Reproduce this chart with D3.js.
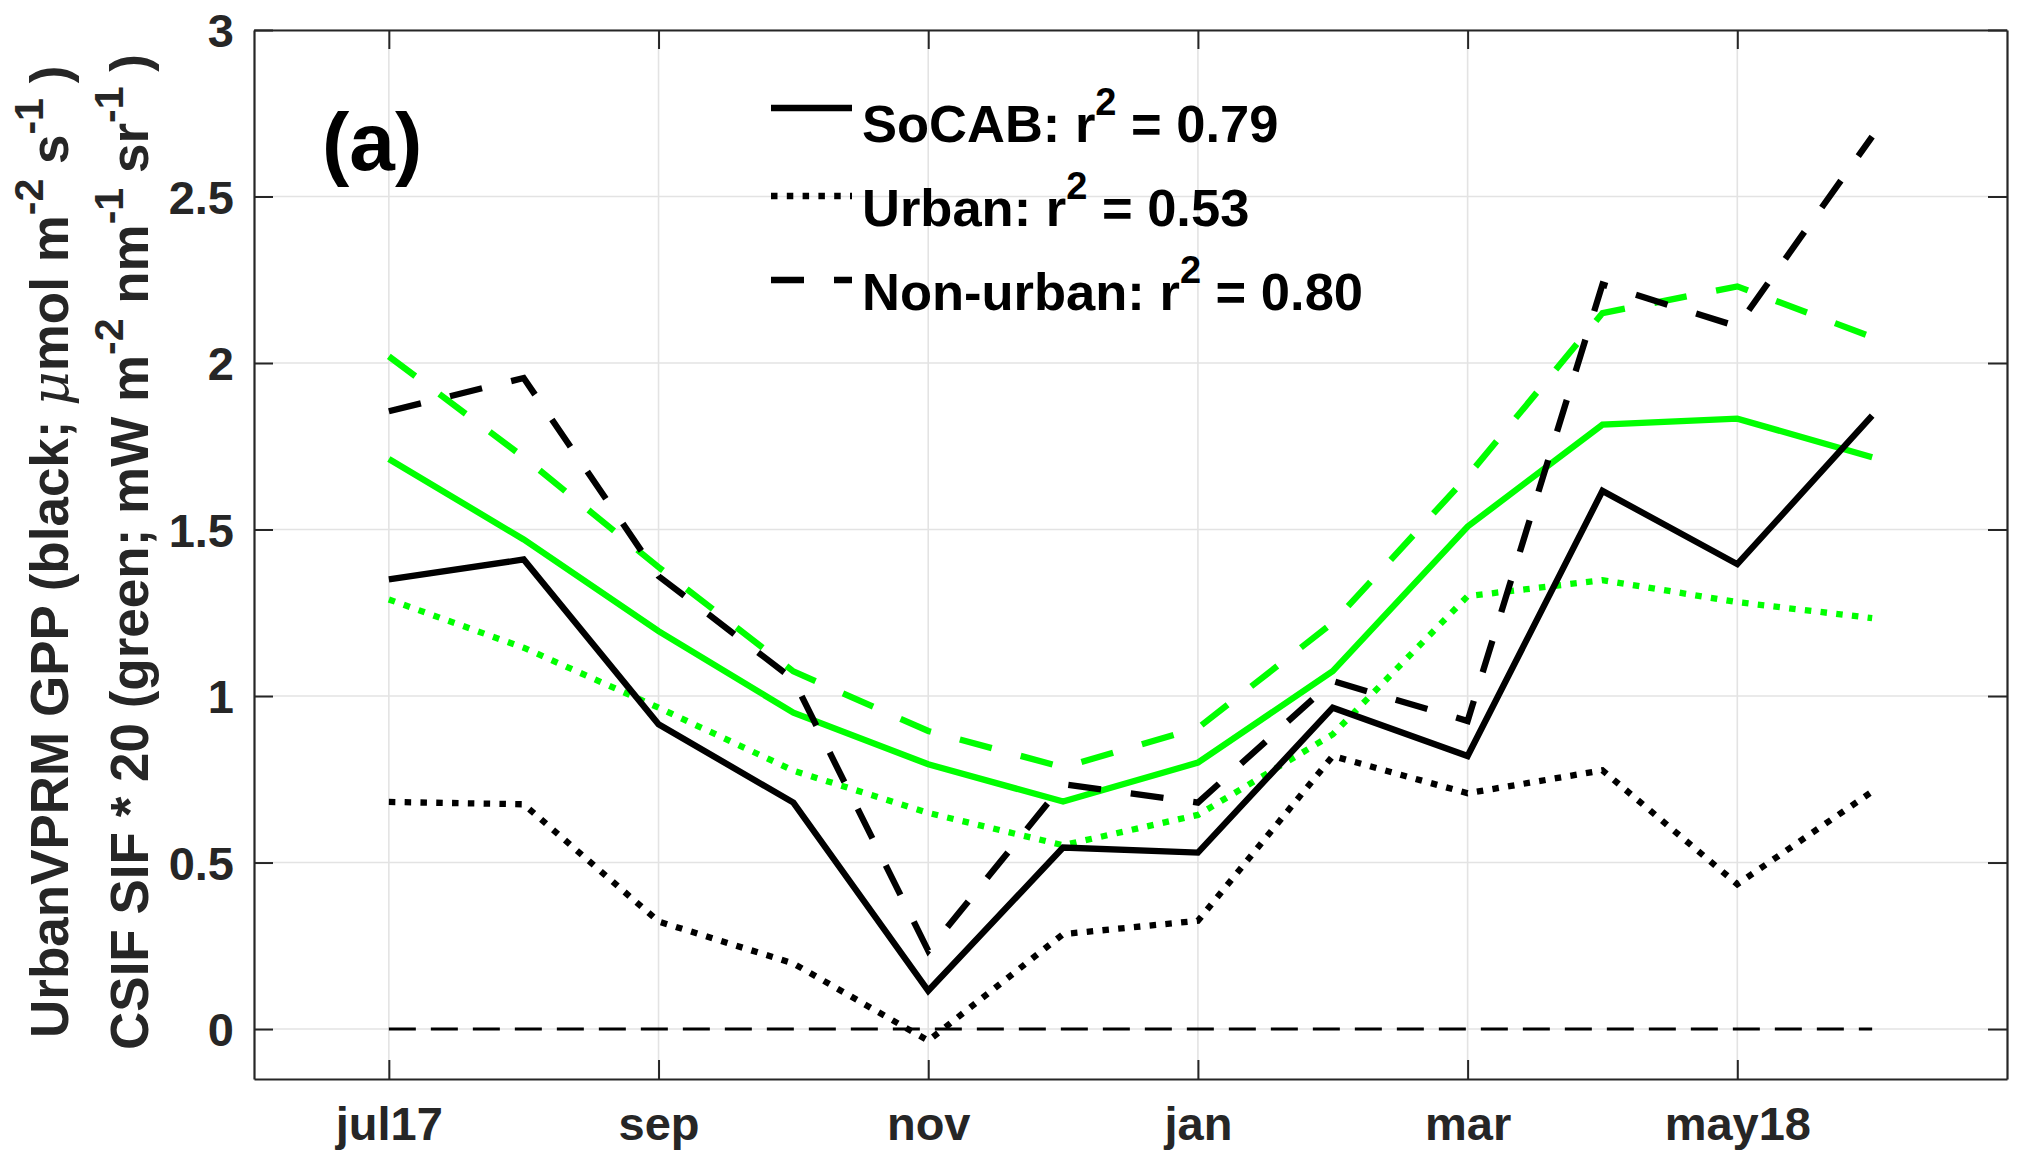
<!DOCTYPE html>
<html>
<head>
<meta charset="utf-8">
<script src="https://cdn.jsdelivr.net/npm/d3@7"></script>
<style>
  html, body { margin: 0; padding: 0; background: #fff; }
  svg { display: block; font-family: "Liberation Sans", Arial, Helvetica, sans-serif; font-weight: bold; }
</style>
</head>
<body>
<div id="chart"></div>
<script>
// month index 0 = jul17 ... 11 = jun18
const months = ["jul17", "aug", "sep", "oct", "nov", "dec", "jan", "feb", "mar", "apr", "may18", "jun"];
const xTickIdx = [0, 2, 4, 6, 8, 10];
const xTickLabels = ["jul17", "sep", "nov", "jan", "mar", "may18"];
const yTicks = [0, 0.5, 1, 1.5, 2, 2.5, 3];

// UrbanVPRM GPP (black)
const gppSoCAB    = [1.35, 1.41, 0.915, 0.68, 0.115, 0.545, 0.53, 0.965, 0.82, 1.616, 1.396, 1.842];
const gppUrban    = [0.682, 0.675, 0.323, 0.197, -0.035, 0.285, 0.325, 0.82, 0.708, 0.777, 0.435, 0.713];
const gppNonUrban = [1.855, 1.955, 1.36, 1.05, 0.235, 0.735, 0.68, 1.045, 0.925, 2.236, 2.11, 2.68];
// CSIF SIF * 20 (green)
const sifSoCAB    = [1.712, 1.47, 1.195, 0.95, 0.795, 0.683, 0.80, 1.075, 1.509, 1.815, 1.833, 1.717];
const sifUrban    = [1.29, 1.145, 0.965, 0.776, 0.649, 0.552, 0.643, 0.885, 1.30, 1.348, 1.282, 1.234];
const sifNonUrban = [2.02, 1.717, 1.387, 1.074, 0.895, 0.786, 0.904, 1.22, 1.66, 2.15, 2.23, 2.078];

const legendLabels = [["SoCAB: r", " = 0.79"], ["Urban: r", " = 0.53"], ["Non-urban: r", " = 0.80"]];

const W = 2022, H = 1157;
const box = { left: 254, right: 2007, top: 30, bottom: 1079 };

const styles = {
  solid: null,
  dotted: "6.5,9.3",
  dashed: "33,30"
};

const svg = d3.select("#chart").append("svg").attr("width", W).attr("height", H);

const x = d3.scaleLinear().domain([-1, 12]).range([box.left, box.right]);
const y = d3.scaleLinear().domain([-0.15, 3]).range([box.bottom, box.top]);

// grid
const grid = svg.append("g").attr("stroke", "#e3e3e3").attr("stroke-width", 1.6);
grid.selectAll("line.v").data(xTickIdx).enter().append("line")
  .attr("x1", d => x(d)).attr("x2", d => x(d))
  .attr("y1", box.top).attr("y2", box.bottom);
grid.selectAll("line.h").data(yTicks).enter().append("line")
  .attr("x1", box.left).attr("x2", box.right)
  .attr("y1", d => y(d)).attr("y2", d => y(d));

// zero line
svg.append("line")
  .attr("x1", x(0)).attr("x2", x(months.length - 1))
  .attr("y1", y(0)).attr("y2", y(0))
  .attr("stroke", "#000").attr("stroke-width", 3)
  .attr("stroke-dasharray", "27,15");

// series
const line = d3.line().x((d, i) => x(i)).y(d => y(d));
const series = [
  { v: sifNonUrban, c: "#00ff00", s: "dashed" },
  { v: sifUrban, c: "#00ff00", s: "dotted" },
  { v: sifSoCAB, c: "#00ff00", s: "solid" },
  { v: gppNonUrban, c: "#000", s: "dashed" },
  { v: gppUrban, c: "#000", s: "dotted" },
  { v: gppSoCAB, c: "#000", s: "solid" }
];
svg.append("g").selectAll("path").data(series).enter().append("path")
  .attr("d", d => line(d.v))
  .attr("fill", "none")
  .attr("stroke", d => d.c)
  .attr("stroke-width", 6.3)
  .attr("stroke-linejoin", "miter")
  .attr("stroke-dasharray", d => styles[d.s]);

// axes (ticks inside, box on all sides)
const tickLen = 19;
const fmtY = d => String(d);
const xAxisB = svg.append("g").attr("transform", `translate(0,${box.bottom})`)
  .call(d3.axisBottom(x).tickValues(xTickIdx).tickFormat((d, i) => xTickLabels[i])
    .tickSizeInner(-tickLen).tickSizeOuter(0).tickPadding(28));
const yAxisL = svg.append("g").attr("transform", `translate(${box.left},0)`)
  .call(d3.axisLeft(y).tickValues(yTicks).tickFormat(fmtY)
    .tickSizeInner(-tickLen).tickSizeOuter(0).tickPadding(20));
const xAxisT = svg.append("g").attr("transform", `translate(0,${box.top})`)
  .call(d3.axisTop(x).tickValues(xTickIdx).tickFormat("").tickSizeInner(-tickLen).tickSizeOuter(0));
const yAxisR = svg.append("g").attr("transform", `translate(${box.right},0)`)
  .call(d3.axisRight(y).tickValues(yTicks).tickFormat("").tickSizeInner(-tickLen).tickSizeOuter(0));

[xAxisB, yAxisL, xAxisT, yAxisR].forEach(g => {
  g.selectAll(".domain").attr("stroke", "#262626").attr("stroke-width", 2.2);
  g.selectAll(".tick line").attr("stroke", "#262626").attr("stroke-width", 2);
  g.selectAll(".tick text")
    .attr("fill", "#262626")
    .style("font-family", '"Liberation Sans", Arial, sans-serif')
    .style("font-weight", "bold")
    .style("font-size", "47px");
});
yAxisL.selectAll(".tick text").attr("dy", "0.36em");

// y label (two lines)
function ylabel(tx, ty, parts) {
  const t = svg.append("text")
    .attr("transform", `translate(${tx},${ty}) rotate(-90)`)
    .attr("fill", "#262626")
    .style("font-size", "53px");
  let shifted = false;
  parts.forEach(p => {
    const ts = t.append("tspan").text(p.t);
    if (p.sup) {
      ts.style("font-size", "41px").attr("dy", -25);
      shifted = true;
    } else if (shifted) {
      ts.attr("dy", 25);
      shifted = false;
    }
    if (p.it) ts.style("font-style", "italic").style("font-weight", "normal").style("font-family", '"DejaVu Serif", serif');
  });
}
ylabel(68, 1038, [
  { t: "UrbanVPRM GPP (black; " }, { t: "μ", it: true }, { t: "mol m" }, { t: "-2", sup: true },
  { t: " s" }, { t: "-1", sup: true }, { t: " )" }
]);
ylabel(148, 1050, [
  { t: "CSIF SIF * 20 (green; mW m" }, { t: "-2", sup: true }, { t: " nm" }, { t: "-1", sup: true },
  { t: " sr" }, { t: "-1", sup: true }, { t: " )" }
]);

// panel label
svg.append("text").attr("x", 322).attr("y", 170)
  .style("font-size", "82px").attr("fill", "#000").text("(a)");

// legend
const legendRows = [
  { s: "solid", ly: 108, ty: 142 },
  { s: "dotted", ly: 196, ty: 226 },
  { s: "dashed", ly: 280, ty: 310 }
];
const lg = svg.append("g");
legendRows.forEach((r, i) => {
  lg.append("line").attr("x1", 771).attr("x2", 852).attr("y1", r.ly).attr("y2", r.ly)
    .attr("stroke", "#000").attr("stroke-width", 6.3)
    .attr("stroke-dasharray", styles[r.s]);
  const t = lg.append("text").attr("x", 862).attr("y", r.ty)
    .attr("fill", "#000").style("font-size", "52.5px");
  t.append("tspan").text(legendLabels[i][0]);
  t.append("tspan").text("2").style("font-size", "38px").attr("dy", -27);
  t.append("tspan").text(legendLabels[i][1]).attr("dy", 27);
});
</script>
</body>
</html>
